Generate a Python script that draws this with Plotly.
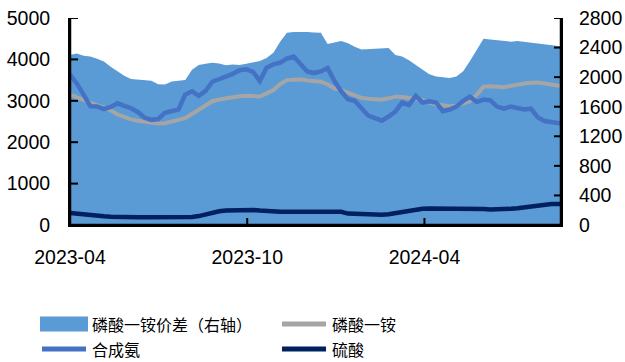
import pandas as pd
import plotly.graph_objects as go

# Weekly observations, plus the latest reading
dates = list(pd.date_range("2023-04-01", periods=73, freq="7D")) + [pd.Timestamp("2024-08-20")]

# 磷酸一铵价差 (right axis, 元/吨)
spread = [2300, 2320, 2290, 2280, 2250, 2210, 2140, 2080, 2020, 1975,
          1965, 1960, 1950, 1905, 1900, 1940, 1945, 1960, 2100, 2165,
          2180, 2195, 2185, 2160, 2170, 2165, 2180, 2195, 2220, 2260,
          2330, 2480, 2600, 2610, 2615, 2610, 2605, 2600, 2450, 2470,
          2490, 2460, 2410, 2375, 2380, 2375, 2385, 2395, 2300, 2280,
          2230, 2170, 2110, 2040, 2010, 1995, 1990, 2010, 2080, 2220,
          2380, 2520, 2510, 2500, 2490, 2480, 2490, 2480, 2470, 2450,
          2440, 2430, 2420, 2415]

# 磷酸一铵 (left axis)
map_price = [3150, 3080, 3030, 2960, 2890, 2840, 2770, 2670, 2600, 2550,
             2520, 2500, 2480, 2450, 2460, 2510, 2540, 2580, 2680, 2800,
             2900, 2990, 3030, 3060, 3100, 3110, 3120, 3110, 3105, 3180,
             3260, 3400, 3500, 3510, 3520, 3490, 3470, 3460, 3400, 3300,
             3260, 3200, 3120, 3070, 3050, 3030, 3025, 3060, 3100, 3090,
             3070, 3060, 3020, 2960, 2910, 2890, 2870, 2880, 2940, 2990,
             3150, 3340, 3350, 3340, 3330, 3360, 3400, 3420, 3435, 3440,
             3420, 3390, 3370, 3360]

# 合成氨 (left axis)
ammonia = [3630, 3420, 3150, 2870, 2860, 2800, 2850, 2940, 2880, 2820,
           2730, 2590, 2540, 2560, 2710, 2760, 2790, 3150, 3230, 3120,
           3240, 3460, 3520, 3570, 3650, 3740, 3760, 3700, 3480, 3800,
           3880, 3920, 4020, 4070, 3880, 3710, 3670, 3710, 3790, 3480,
           3230, 3040, 3000, 2810, 2640, 2580, 2520, 2620, 2740, 2960,
           2900, 3120, 2960, 2990, 2960, 2750, 2790, 2860, 3000, 3100,
           2970, 3030, 3010, 2860, 2810, 2860, 2830, 2790, 2810, 2600,
           2510, 2490, 2460, 2450]

# 硫酸 (left axis)
sulfuric = [290, 270, 255, 240, 225, 210, 200, 190, 185, 185,
            185, 185, 185, 185, 185, 185, 185, 185, 195, 215,
            260, 300, 330, 350, 360, 365, 370, 365, 350, 335,
            320, 318, 318, 318, 318, 318, 318, 318, 318, 318,
            318, 275, 265, 255, 250, 250, 250, 260, 290, 320,
            345, 370, 390, 398, 400, 400, 398, 396, 394, 392,
            390, 388, 375, 375, 380, 390, 405, 430, 450, 475,
            495, 505, 510, 510]

names = ["磷酸一铵价差（右轴）", "磷酸一铵", "合成氨", "硫酸"]
colors = ["#5B9BD5", "#A5A5A5", "#4472C4", "#002060"]

left_ticks = [0, 1000, 2000, 3000, 4000, 5000]
right_ticks = [0, 400, 800, 1200, 1600, 2000, 2400, 2800]
x_ticks = ["2023-04-01", "2023-10-01", "2024-04-01"]
x_labels = ["2023-04", "2023-10", "2024-04"]

W, H = 625, 362
ML, MR, MT, MB = 70, 64, 18, 137
PW, PH = W - ML - MR, H - MT - MB


def px(x):
    return (x - ML) / PW


def py(y):
    return (H - MB - y) / PH


fig = go.Figure()
fig.add_trace(go.Scatter(x=dates, y=spread, name=names[0], yaxis="y",
                         mode="lines", line=dict(width=0, color=colors[0]),
                         fill="tozeroy", fillcolor=colors[0]))
fig.add_trace(go.Scatter(x=dates, y=map_price, name=names[1], yaxis="y2",
                         mode="lines", line=dict(width=4, color=colors[1])))
fig.add_trace(go.Scatter(x=dates, y=ammonia, name=names[2], yaxis="y2",
                         mode="lines", line=dict(width=4.5, color=colors[2])))
fig.add_trace(go.Scatter(x=dates, y=sulfuric, name=names[3], yaxis="y2",
                         mode="lines", line=dict(width=4.5, color=colors[3])))

tickfont = dict(family="Liberation Sans, Arial", size=19.5, color="#000")
axis_common = dict(showline=True, linecolor="#000000", linewidth=2,
                   showgrid=False, zeroline=False, ticks="", tickfont=tickfont,
                   automargin=False)

fig.update_layout(
    width=W, height=H,
    margin=dict(l=ML, r=MR, t=MT, b=MB, autoexpand=False),
    paper_bgcolor="white", plot_bgcolor="white",
    showlegend=False,
    xaxis=dict(type="date", range=[dates[0], dates[-1]],
               tickvals=x_ticks, ticktext=x_labels,
               ticklabelstandoff=14, **axis_common),
    yaxis=dict(range=[0, 2800], tickvals=right_ticks, side="right",
               ticklabelstandoff=12, **axis_common),
    yaxis2=dict(range=[0, 5000], tickvals=left_ticks, side="left",
                overlaying="y", anchor="x",
                ticklabelstandoff=14, **axis_common),
)

# axis frame (left, right, bottom) drawn on top of the area fill
frame = dict(color="#000000", width=2.5)
for x0, x1, y0, y1 in [(0, 0, 0, 1), (1, 1, 0, 1), (0, 1, 0, 0)]:
    fig.add_shape(type="line", xref="paper", yref="paper",
                  x0=x0, x1=x1, y0=y0, y1=y1, line=frame, layer="above")

# inward tick marks
tick_line = dict(color="#000000", width=2)
for v in left_ticks[1:]:
    fig.add_shape(type="line", xref="paper", yref="y2", x0=0, x1=8 / PW,
                  y0=v, y1=v, line=tick_line, layer="above")
for v in right_ticks[1:]:
    fig.add_shape(type="line", xref="paper", yref="y", x0=1 - 7 / PW, x1=1,
                  y0=v, y1=v, line=tick_line, layer="above")
for d in x_ticks[1:]:
    fig.add_shape(type="line", xref="x", yref="paper", x0=d, x1=d,
                  y0=0, y1=7 / PH, line=tick_line, layer="above")

# legend drawn below the plot: two columns, two rows
legend_font = dict(family="Noto Sans CJK SC", size=16, color="#000")
cols = [40, 280]
rows = [324, 349]
for i, (name, color) in enumerate(zip(names, colors)):
    cx = cols[i % 2]
    cy = rows[i // 2]
    if i == 0:
        fig.add_shape(type="rect", xref="paper", yref="paper",
                      x0=px(cx), x1=px(cx + 48), y0=py(cy - 7.5), y1=py(cy + 7.5),
                      fillcolor=color, line=dict(width=0), layer="above")
    else:
        fig.add_shape(type="line", xref="paper", yref="paper",
                      x0=px(cx + 2), x1=px(cx + 46), y0=py(cy), y1=py(cy),
                      line=dict(color=color, width=5), layer="above")
    fig.add_annotation(x=px(cx + 51), y=py(cy), xref="paper", yref="paper",
                       text=name, showarrow=False, font=legend_font,
                       xanchor="left", yanchor="middle", borderpad=0)

fig.write_html("out.html")
